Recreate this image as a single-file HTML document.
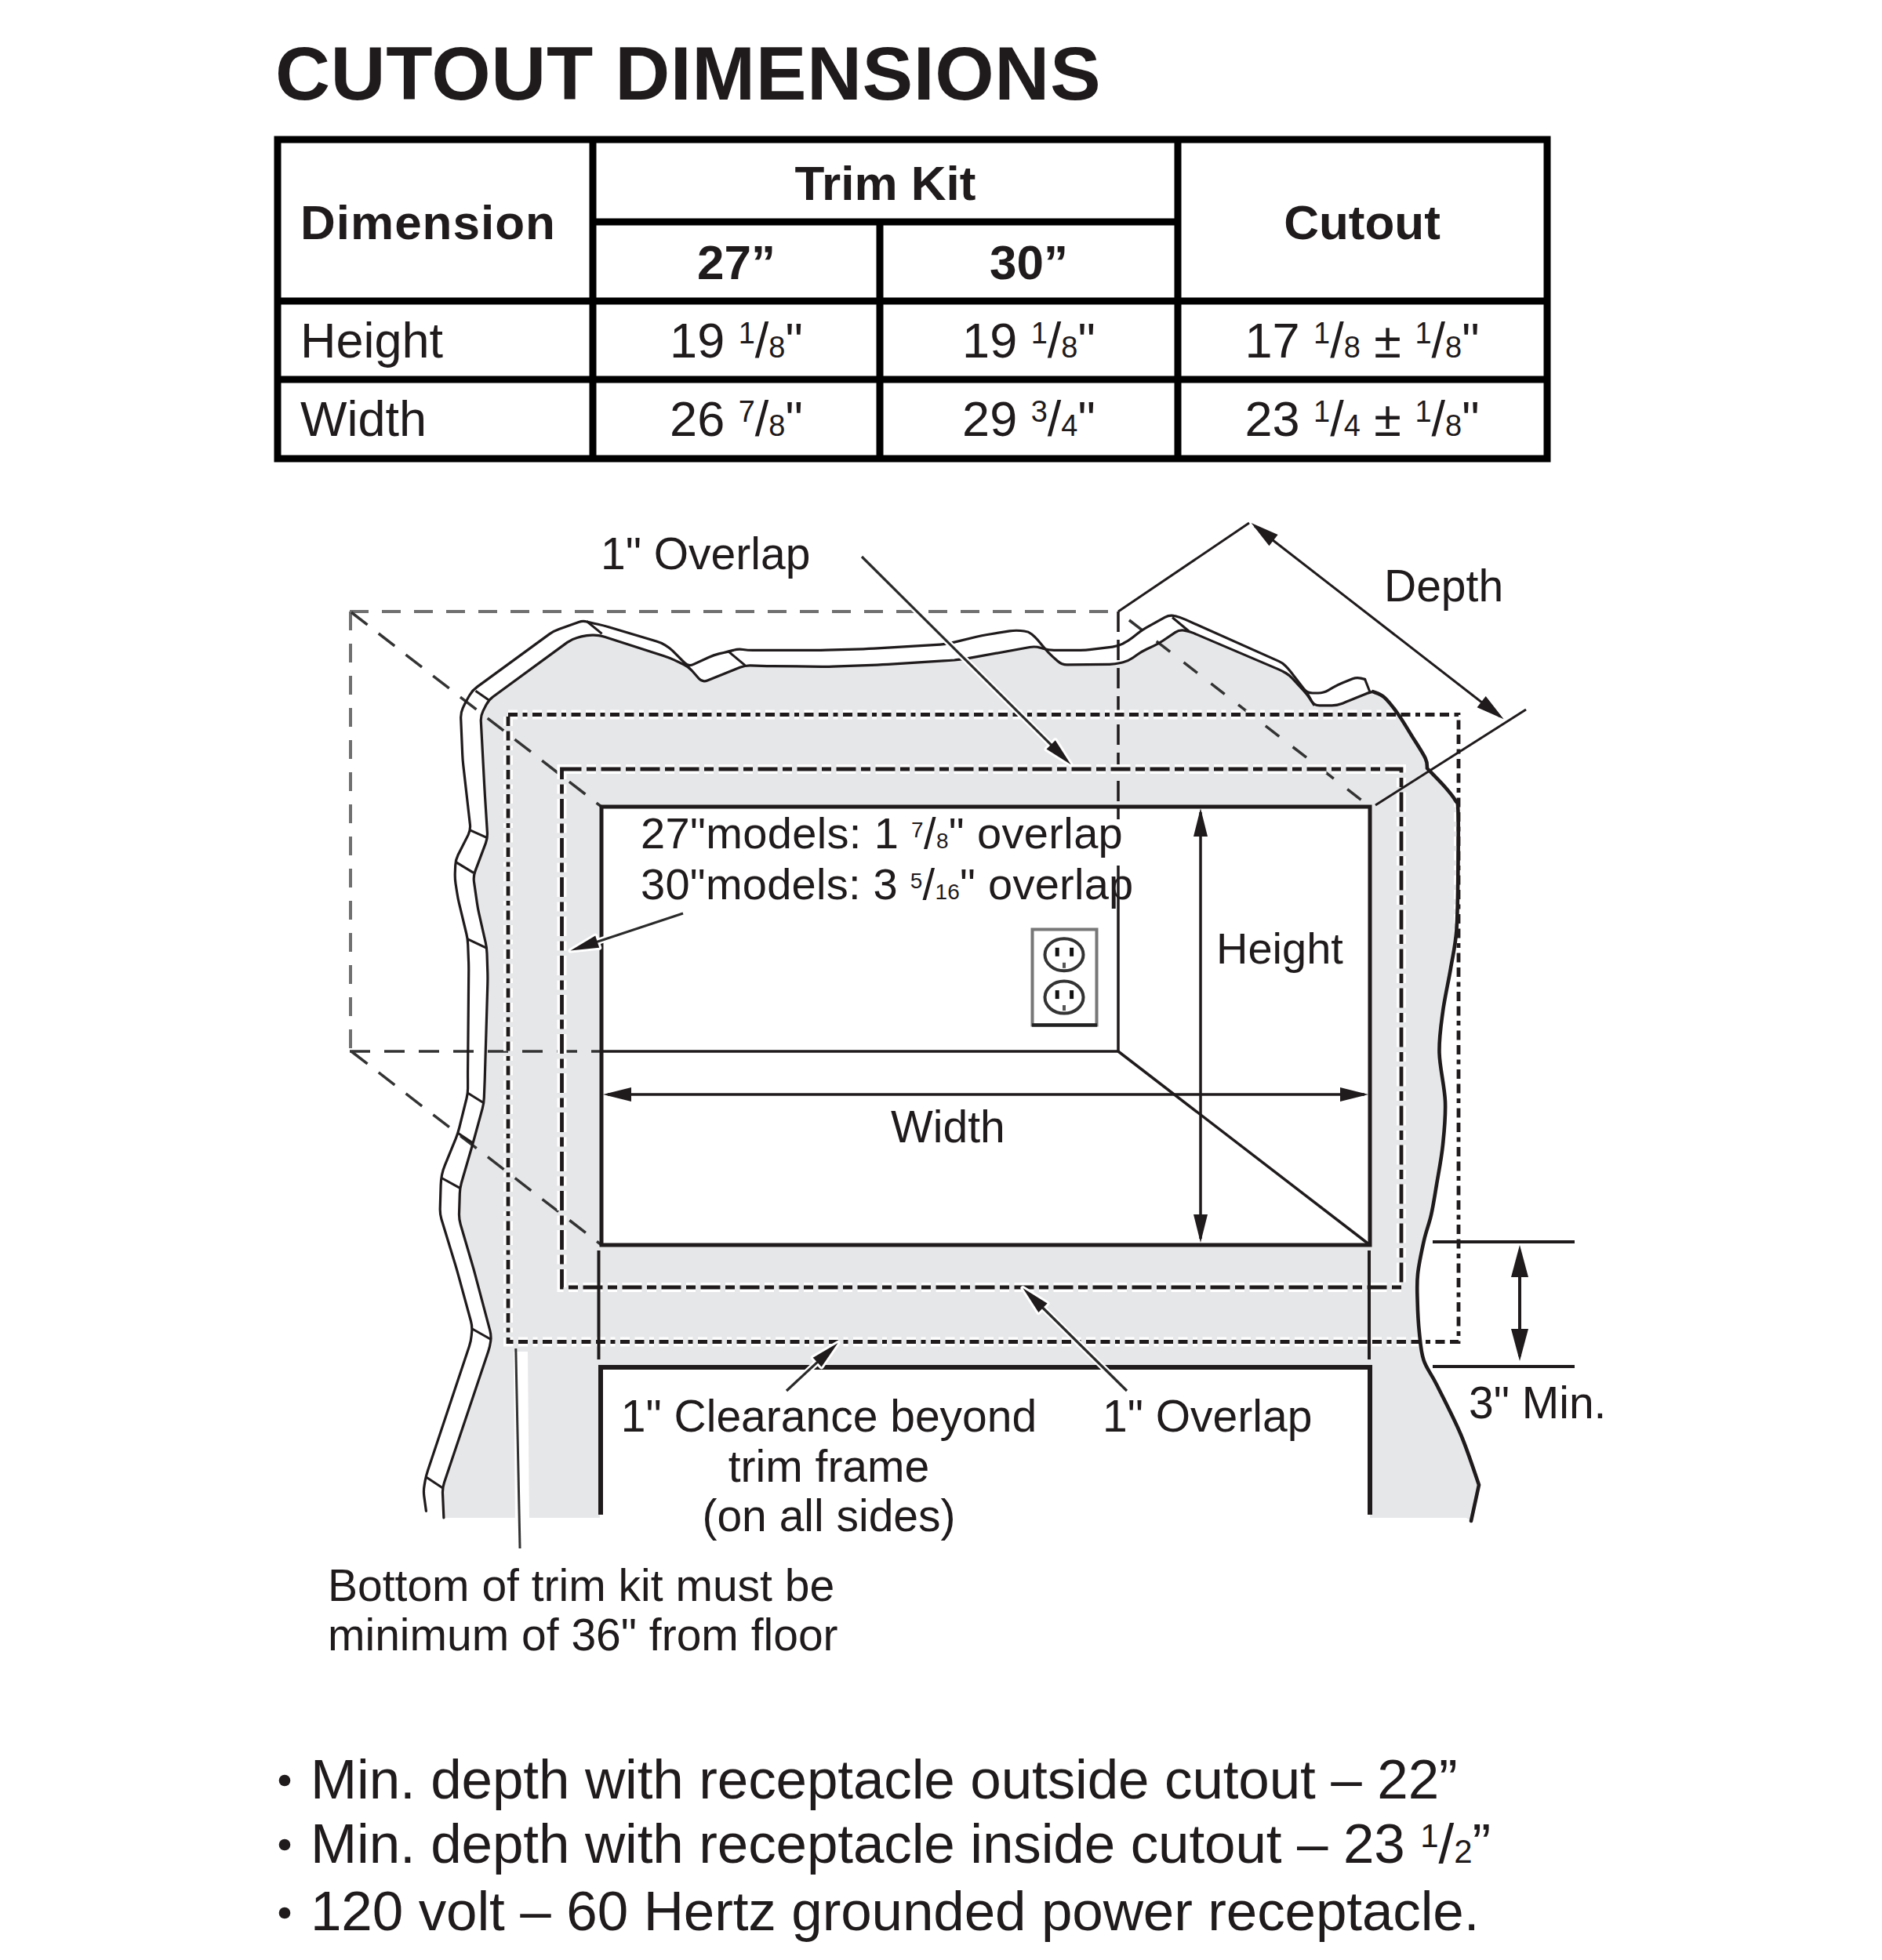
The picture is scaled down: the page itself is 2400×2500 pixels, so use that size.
<!DOCTYPE html>
<html><head><meta charset="utf-8"><title>Cutout Dimensions</title>
<style>
html,body{margin:0;padding:0;background:#fff;}
body{width:2400px;height:2500px;overflow:hidden;}
svg{display:block;}
text{font-family:"Liberation Sans", sans-serif; fill:#1f1a1b;}
</style></head>
<body>
<svg width="2400" height="2500" viewBox="0 0 2400 2500">
<rect width="2400" height="2500" fill="#fff"/>
<polygon points="565.9,1936 564.2,1897.8 624.8,1717.5 626.6,1703.6 604.4,1620 585.3,1555 586.5,1515.4 603.1,1458 617.1,1407 618.4,1370 622,1247.6 620.8,1209.3 609.3,1158.3 603.5,1118 621.8,1068.8 618,1007.6 612.9,913.2 623.1,892.8 729,815.3 748.3,810.1 764.1,810.1 853.5,839 878.1,850.4 895.6,870.6 950.1,848.6 978.2,849.5 1055.3,850.4 1125.5,847.8 1210,842.5 1226.5,841.2 1320,824.2 1326.8,821.7 1337,832.7 1354,848 1422,847.2 1439,843 1456,831 1477.5,820.9 1503.8,803.3 1516,805 1635.3,855.9 1644,861 1667,885.7 1675.7,899.8 1705.5,899.8 1723,892.7 1744,884 1751,882.2 1751,882.2 1765.5,889.6 1783,911 1801,939.6 1817.6,967 1820,980 1842,1003 1856,1021 1859.4,1033.5 1859.5,1100 1857.5,1185 1850,1235 1840,1290 1835.5,1343 1843,1405 1840,1460 1832,1511 1825,1550 1816,1582 1808,1625 1807.6,1660 1810,1700 1815.6,1735 1832,1766 1863,1830 1886,1894 1876,1940 1870,1936" fill="#e6e7e9"/>
<rect x="767" y="1029" width="980" height="559" fill="#fff"/>
<rect x="765" y="1746" width="982" height="200" fill="#fff"/>
<polygon points="655,1724 673,1724 675,1945 657,1945" fill="#fff"/>
<line x1="446" y1="780" x2="1426" y2="780" stroke="#707070" stroke-width="4" stroke-dasharray="24 17"/>
<line x1="447" y1="780" x2="447" y2="1340" stroke="#707070" stroke-width="4" stroke-dasharray="24 17"/>
<line x1="448" y1="781" x2="767" y2="1029" stroke="#333" stroke-width="3.5" stroke-dasharray="26 18"/>
<line x1="448" y1="1341" x2="767" y2="1588" stroke="#333" stroke-width="3.5" stroke-dasharray="26 18"/>
<line x1="1440" y1="791" x2="1747" y2="1029" stroke="#333" stroke-width="3.5" stroke-dasharray="22 22"/>
<line x1="446" y1="1341" x2="767" y2="1341" stroke="#333" stroke-width="3.5" stroke-dasharray="26 18"/>
<line x1="767" y1="1341" x2="1426" y2="1341" stroke="#1f1a1b" stroke-width="3.5" />
<line x1="1426" y1="780" x2="1426" y2="1029" stroke="#1f1a1b" stroke-width="3.5" stroke-dasharray="26 10"/>
<line x1="1426" y1="1029" x2="1426" y2="1045" stroke="#1f1a1b" stroke-width="3.5" />
<line x1="1426" y1="1104" x2="1426" y2="1341" stroke="#1f1a1b" stroke-width="3.5" />
<line x1="1426" y1="1341" x2="1747" y2="1588" stroke="#1f1a1b" stroke-width="3.5" />
<path d="M648,911.5 H1860 V1711.5 H648 Z" fill="none" stroke="#fff" stroke-width="12" stroke-dasharray="12 6.5 6 6.5 12 6.5" />
<path d="M648,911.5 H1860 V1711.5 H648 Z" fill="none" stroke="#1f1a1b" stroke-width="4.8" stroke-dasharray="12 6.5 6 6.5 12 6.5" />
<path d="M716.5,981 H1787 V1642 H716.5 Z" fill="none" stroke="#fff" stroke-width="12" stroke-dasharray="25 6.5 12 6.5" />
<path d="M716.5,981 H1787 V1642 H716.5 Z" fill="none" stroke="#1f1a1b" stroke-width="4.8" stroke-dasharray="25 6.5 12 6.5" />
<path d="M543.4,1927.3 L540.8,1908.2 Q539.9,1901.3 541.2,1894.4 L542.1,1889.1 Q543.4,1882.2 545.6,1875.6 L598.4,1717.2 Q600.6,1710.6 601.2,1703.6 L601.7,1698.5 Q602.3,1691.5 600.4,1684.7 L584.6,1626.8 Q582.7,1620.0 580.7,1613.3 L563.0,1555.3 Q561.0,1548.6 561.2,1541.6 L562.1,1511.7 Q562.3,1505.2 563.5,1498.8 L563.5,1498.8 Q564.8,1492.4 567.3,1486.4 L581.4,1451.8 Q584.0,1445.3 585.7,1438.5 L595.0,1401.0 Q596.7,1394.2 596.6,1387.2 L596.6,1377.0 Q596.5,1370.0 596.6,1363.0 L597.7,1241.8 Q597.8,1234.8 597.6,1227.8 L596.7,1204.8 Q596.5,1197.8 594.8,1191.0 L585.5,1152.3 Q583.8,1145.5 582.8,1138.6 L581.0,1126.9 Q580.0,1120.0 580.3,1113.0 L580.7,1103.8 Q581.0,1096.8 584.1,1090.5 L597.1,1064.9 Q600.2,1058.6 599.4,1051.6 L590.8,976.3 Q590.0,969.3 589.7,962.3 L587.7,916.3 Q587.4,909.3 590.3,902.9 L590.9,901.7 Q593.8,895.3 597.4,889.3 L599.2,886.2 Q602.8,880.2 608.5,876.1 L700.5,808.9 Q706.2,804.8 712.8,802.5 L738.0,793.5 Q743.1,791.7 748.4,793.0 L748.4,793.0 Q753.6,794.3 758.9,795.5 L762.6,796.3 Q769.4,797.8 776.1,799.8 L837.2,818.0 Q843.0,819.7 848.2,822.8 L848.2,822.8 Q853.5,825.9 857.8,830.2 L873.1,845.5 Q878.1,850.4 884.4,847.4 L903.7,838.5 Q910.0,835.5 916.8,833.9 L922.9,832.5 Q929.1,831.1 935.2,829.4 L935.5,829.3 Q941.4,827.6 947.5,828.5 L947.5,828.5 Q953.6,829.4 959.8,829.4 L1039.6,829.4 Q1046.6,829.4 1053.6,829.2 L1101.0,827.8 Q1108.0,827.6 1115.0,827.2 L1199.0,822.1 Q1206.0,821.7 1212.8,820.1 L1245.2,812.2 Q1252.0,810.6 1258.9,809.5 L1287.6,804.9 Q1294.5,803.8 1301.5,804.5 L1306.1,805.0 Q1311.5,805.5 1315.8,808.9 L1315.8,808.9 Q1320.0,812.3 1323.5,816.5 L1332.5,827.3 Q1337.0,832.7 1342.2,837.4 L1348.8,843.3 Q1354.0,848.0 1361.0,847.9 L1415.0,847.3 Q1422.0,847.2 1428.8,845.5 L1432.2,844.7 Q1439.0,843.0 1444.7,839.0 L1450.3,835.0 Q1456.0,831.0 1462.3,828.0 L1471.2,823.9 Q1477.5,820.9 1483.3,817.0 L1498.7,806.7 Q1503.8,803.3 1509.9,804.1 L1509.9,804.1 Q1516.0,805.0 1521.7,807.4 L1630.7,853.9 Q1635.3,855.9 1639.7,858.5 L1639.7,858.5 Q1644.0,861.0 1647.4,864.7 L1662.2,880.6 Q1667.0,885.7 1670.7,891.7 L1672.0,893.8 Q1675.7,899.8 1682.7,899.8 L1698.5,899.8 Q1705.5,899.8 1712.0,897.2 L1716.5,895.3 Q1723.0,892.7 1729.5,890.0 L1740.7,885.4 Q1744.0,884.0 1747.5,883.1 L1751.0,882.2" fill="none" stroke="#1f1a1b" stroke-width="3.2" stroke-linejoin="round" stroke-linecap="round"/>
<path d="M565.9,1936.0 L564.5,1904.8 Q564.2,1897.8 566.4,1891.2 L622.6,1724.1 Q624.8,1717.5 625.7,1710.6 L625.7,1710.5 Q626.6,1703.6 624.8,1696.8 L606.2,1626.8 Q604.4,1620.0 602.4,1613.3 L587.3,1561.7 Q585.3,1555.0 585.5,1548.0 L586.3,1522.4 Q586.5,1515.4 588.4,1508.7 L601.2,1464.7 Q603.1,1458.0 605.0,1451.2 L615.2,1413.8 Q617.1,1407.0 617.3,1400.0 L618.2,1377.0 Q618.4,1370.0 618.6,1363.0 L621.8,1254.6 Q622.0,1247.6 621.8,1240.6 L621.0,1216.3 Q620.8,1209.3 619.3,1202.5 L610.8,1165.1 Q609.3,1158.3 608.3,1151.4 L604.5,1124.9 Q603.5,1118.0 605.9,1111.4 L619.4,1075.4 Q621.8,1068.8 621.4,1061.8 L618.4,1014.6 Q618.0,1007.6 617.6,1000.6 L613.3,920.2 Q612.9,913.2 616.0,906.9 L620.0,899.1 Q623.1,892.8 628.7,888.7 L723.4,819.4 Q729.0,815.3 735.8,813.5 L741.5,811.9 Q748.3,810.1 755.3,810.1 L757.1,810.1 Q764.1,810.1 770.8,812.3 L846.8,836.8 Q853.5,839.0 859.9,841.9 L871.7,847.5 Q878.1,850.4 882.7,855.7 L891.0,865.3 Q895.6,870.6 902.1,868.0 L943.6,851.2 Q950.1,848.6 957.1,848.8 L971.2,849.3 Q978.2,849.5 985.2,849.6 L1048.3,850.3 Q1055.3,850.4 1062.3,850.1 L1118.5,848.1 Q1125.5,847.8 1132.5,847.4 L1203.0,842.9 Q1210.0,842.5 1217.0,842.0 L1219.5,841.7 Q1226.5,841.2 1233.4,839.9 L1313.1,825.5 Q1320.0,824.2 1326.7,826.2 L1330.3,827.3 Q1337.0,829.3 1344.0,829.3 L1377.7,829.3 Q1384.7,829.3 1391.6,828.4 L1418.6,825.1 Q1425.5,824.2 1431.8,821.1 L1432.7,820.5 Q1439.0,817.4 1444.5,813.0 L1450.5,808.2 Q1456.0,803.8 1462.1,800.4 L1485.5,787.4 Q1491.6,784.0 1498.4,785.7 L1498.8,785.8 Q1505.6,787.5 1512.0,790.4 L1630.7,843.4 Q1635.3,845.4 1638.8,848.9 L1638.8,848.9 Q1642.4,852.4 1645.5,856.3 L1662.6,878.5 Q1666.9,884.0 1673.9,884.0 L1681.0,884.0 Q1688.0,884.0 1694.0,880.4 L1699.5,877.1 Q1705.5,873.5 1712.0,870.9 L1724.9,865.8 Q1730.0,863.8 1735.3,865.1 L1740.6,866.4" fill="none" stroke="#1f1a1b" stroke-width="3.2" stroke-linejoin="round" stroke-linecap="round"/>
<path d="M1751.0,882.2 C1753.4,883.4 1760.2,884.8 1765.5,889.6 C1770.8,894.4 1777.1,902.7 1783.0,911.0 C1788.9,919.3 1795.2,930.3 1801.0,939.6 C1806.8,948.9 1814.4,960.3 1817.6,967.0 C1820.8,973.7 1819.6,977.8 1820.0,980.0 L1820.0,980.0 C1823.7,983.8 1836.0,996.2 1842.0,1003.0 C1848.0,1009.8 1853.1,1015.9 1856.0,1021.0 C1858.9,1026.1 1858.8,1020.3 1859.4,1033.5 C1860.0,1046.7 1859.8,1074.8 1859.5,1100.0 C1859.2,1125.2 1859.1,1162.5 1857.5,1185.0 C1855.9,1207.5 1852.9,1217.5 1850.0,1235.0 C1847.1,1252.5 1842.4,1272.0 1840.0,1290.0 C1837.6,1308.0 1835.0,1323.8 1835.5,1343.0 C1836.0,1362.2 1842.2,1385.5 1843.0,1405.0 C1843.8,1424.5 1841.8,1442.3 1840.0,1460.0 C1838.2,1477.7 1834.5,1496.0 1832.0,1511.0 C1829.5,1526.0 1827.7,1538.2 1825.0,1550.0 C1822.3,1561.8 1818.8,1569.5 1816.0,1582.0 C1813.2,1594.5 1809.4,1612.0 1808.0,1625.0 C1806.6,1638.0 1807.3,1647.5 1807.6,1660.0 C1807.9,1672.5 1808.7,1687.5 1810.0,1700.0 C1811.3,1712.5 1811.9,1724.0 1815.6,1735.0 C1819.3,1746.0 1824.1,1750.2 1832.0,1766.0 C1839.9,1781.8 1854.0,1808.7 1863.0,1830.0 C1872.0,1851.3 1882.2,1883.3 1886.0,1894.0 L1876,1940" fill="none" stroke="#1f1a1b" stroke-width="4.6" stroke-linejoin="round" stroke-linecap="round"/>
<line x1="596.7" y1="1394.2" x2="617.1" y2="1407" stroke="#1f1a1b" stroke-width="3" />
<line x1="584" y1="1445.3" x2="603.1" y2="1458" stroke="#1f1a1b" stroke-width="3" />
<line x1="563.6" y1="1502.7" x2="586.5" y2="1515.4" stroke="#1f1a1b" stroke-width="3" />
<line x1="602.3" y1="1695" x2="626.6" y2="1708.8" stroke="#1f1a1b" stroke-width="3" />
<line x1="543.4" y1="1884" x2="564.2" y2="1897.8" stroke="#1f1a1b" stroke-width="3" />
<line x1="596.5" y1="1197.8" x2="620.8" y2="1209.3" stroke="#1f1a1b" stroke-width="3" />
<line x1="598.9" y1="1058.6" x2="621.8" y2="1068.8" stroke="#1f1a1b" stroke-width="3" />
<line x1="581" y1="1099.4" x2="604" y2="1113.4" stroke="#1f1a1b" stroke-width="3" />
<line x1="606.5" y1="881.3" x2="623.1" y2="892.8" stroke="#1f1a1b" stroke-width="3" />
<line x1="748.3" y1="792.5" x2="767.6" y2="808.3" stroke="#1f1a1b" stroke-width="3" />
<line x1="929.1" y1="831.1" x2="950.1" y2="848.6" stroke="#1f1a1b" stroke-width="3" />
<line x1="1495" y1="787.5" x2="1516" y2="805" stroke="#1f1a1b" stroke-width="3" />
<line x1="1667" y1="884" x2="1676" y2="900" stroke="#1f1a1b" stroke-width="3" />
<line x1="1740.6" y1="866.4" x2="1747.5" y2="884" stroke="#1f1a1b" stroke-width="3" />
<rect x="767" y="1029" width="980" height="559" fill="none" stroke="#1f1a1b" stroke-width="5"/>
<line x1="763.5" y1="1595" x2="763.5" y2="1734" stroke="#1f1a1b" stroke-width="4" />
<line x1="1746" y1="1595" x2="1746" y2="1734" stroke="#1f1a1b" stroke-width="4" />
<path d="M766,1932 V1744 H1747 V1932" fill="none" stroke="#1f1a1b" stroke-width="6"/>
<rect x="1316.5" y="1185.5" width="82" height="122" fill="#fff" stroke="#777" stroke-width="4"/>
<line x1="1316" y1="1307.5" x2="1399" y2="1307.5" stroke="#222" stroke-width="4.5" />
<ellipse cx="1357" cy="1217.8" rx="24.5" ry="20.5" fill="#fff" stroke="#333" stroke-width="4"/>
<line x1="1348.2" y1="1208.8" x2="1348.2" y2="1219.8" stroke="#111" stroke-width="5" />
<line x1="1366.6" y1="1208.8" x2="1366.6" y2="1219.8" stroke="#111" stroke-width="5" />
<line x1="1357" y1="1227.8" x2="1357" y2="1234.8" stroke="#555" stroke-width="4" />
<ellipse cx="1357" cy="1272.1" rx="24.5" ry="20.5" fill="#fff" stroke="#333" stroke-width="4"/>
<line x1="1348.2" y1="1263.1" x2="1348.2" y2="1274.1" stroke="#111" stroke-width="5" />
<line x1="1366.6" y1="1263.1" x2="1366.6" y2="1274.1" stroke="#111" stroke-width="5" />
<line x1="1357" y1="1282.1" x2="1357" y2="1289.1" stroke="#555" stroke-width="4" />
<line x1="775" y1="1396" x2="1740" y2="1396" stroke="#1f1a1b" stroke-width="3.5" />
<polygon points="769.0,1396.0 805.0,1387.0 805.0,1405.0" fill="#1f1a1b"/>
<polygon points="1745.0,1396.0 1709.0,1405.0 1709.0,1387.0" fill="#1f1a1b"/>
<line x1="1531" y1="1036" x2="1531" y2="1580" stroke="#1f1a1b" stroke-width="3.5" />
<polygon points="1531.0,1031.0 1540.0,1067.0 1522.0,1067.0" fill="#1f1a1b"/>
<polygon points="1531.0,1585.0 1522.0,1549.0 1540.0,1549.0" fill="#1f1a1b"/>
<line x1="1426" y1="780" x2="1593" y2="667" stroke="#1f1a1b" stroke-width="3" />
<line x1="1754" y1="1027" x2="1946" y2="905" stroke="#1f1a1b" stroke-width="3" />
<line x1="1600" y1="671" x2="1913" y2="914" stroke="#1f1a1b" stroke-width="3" />
<polygon points="1595.6,667.1 1629.6,682.0 1618.5,696.3" fill="#1f1a1b"/>
<polygon points="1917.6,917.3 1883.6,902.3 1894.7,888.1" fill="#1f1a1b"/>
<line x1="1827" y1="1584" x2="2008" y2="1584" stroke="#1f1a1b" stroke-width="4" />
<line x1="1827" y1="1743" x2="2008" y2="1743" stroke="#1f1a1b" stroke-width="4" />
<line x1="1938" y1="1595" x2="1938" y2="1730" stroke="#1f1a1b" stroke-width="4" />
<polygon points="1938.0,1588.0 1949.0,1629.0 1927.0,1629.0" fill="#1f1a1b"/>
<polygon points="1938.0,1736.0 1927.0,1695.0 1949.0,1695.0" fill="#1f1a1b"/>
<line x1="1099" y1="710" x2="1343.0131157233827" y2="952.7322069794279" stroke="#fff" stroke-width="8" stroke-linecap="round"/>
<polygon points="1365.7,975.3 1334.5,955.6 1345.8,944.2" fill="#fff" stroke="#fff" stroke-width="6" stroke-linejoin="round"/>
<line x1="1099" y1="710" x2="1343.0131157233827" y2="952.7322069794279" stroke="#2a2a2a" stroke-width="3.2" />
<polygon points="1365.7,975.3 1334.5,955.6 1345.8,944.2" fill="#1f1a1b"/>
<line x1="871" y1="1165" x2="757.8789691179155" y2="1202.4442436717702" stroke="#fff" stroke-width="8" stroke-linecap="round"/>
<polygon points="727.5,1212.5 759.2,1193.6 764.2,1208.8" fill="#fff" stroke="#fff" stroke-width="6" stroke-linejoin="round"/>
<line x1="871" y1="1165" x2="757.8789691179155" y2="1202.4442436717702" stroke="#2a2a2a" stroke-width="3.2" />
<polygon points="727.5,1212.5 759.2,1193.6 764.2,1208.8" fill="#1f1a1b"/>
<line x1="1003" y1="1774" x2="1045.082467263938" y2="1734.8086946091569" stroke="#fff" stroke-width="8" stroke-linecap="round"/>
<polygon points="1068.5,1713.0 1047.6,1743.4 1036.7,1731.7" fill="#fff" stroke="#fff" stroke-width="6" stroke-linejoin="round"/>
<line x1="1003" y1="1774" x2="1045.082467263938" y2="1734.8086946091569" stroke="#2a2a2a" stroke-width="3.2" />
<polygon points="1068.5,1713.0 1047.6,1743.4 1036.7,1731.7" fill="#1f1a1b"/>
<line x1="1437" y1="1774" x2="1327.164341611644" y2="1665.4896587566013" stroke="#fff" stroke-width="8" stroke-linecap="round"/>
<polygon points="1304.4,1643.0 1335.6,1662.6 1324.4,1674.0" fill="#fff" stroke="#fff" stroke-width="6" stroke-linejoin="round"/>
<line x1="1437" y1="1774" x2="1327.164341611644" y2="1665.4896587566013" stroke="#2a2a2a" stroke-width="3.2" />
<polygon points="1304.4,1643.0 1335.6,1662.6 1324.4,1674.0" fill="#1f1a1b"/>
<line x1="657.8" y1="1720" x2="663" y2="1975" stroke="#333" stroke-width="3" />
<text x="766" y="726" font-size="57" text-anchor="start" font-weight="normal" >1&quot; Overlap</text>
<text x="1765" y="767" font-size="57" text-anchor="start" font-weight="normal" >Depth</text>
<text x="817" y="1082" font-size="56" text-anchor="start" font-weight="normal" letter-spacing="0.35">27&quot;models: 1 <tspan font-size="28" dy="-14">7</tspan><tspan dy="14">/</tspan><tspan font-size="28">8</tspan>&quot; overlap</text>
<text x="817" y="1147" font-size="56" text-anchor="start" font-weight="normal" letter-spacing="0.25">30&quot;models: 3 <tspan font-size="28" dy="-14">5</tspan><tspan dy="14">/</tspan><tspan font-size="28">16</tspan>&quot; overlap</text>
<text x="1551" y="1229" font-size="56" text-anchor="start" font-weight="normal" >Height</text>
<text x="1136" y="1457" font-size="57" text-anchor="start" font-weight="normal" >Width</text>
<text x="1057" y="1826" font-size="57" text-anchor="middle" font-weight="normal" >1&quot; Clearance beyond</text>
<text x="1057" y="1890" font-size="57" text-anchor="middle" font-weight="normal" >trim frame</text>
<text x="1057" y="1953" font-size="57" text-anchor="middle" font-weight="normal" >(on all sides)</text>
<text x="1406" y="1826" font-size="57" text-anchor="start" font-weight="normal" >1&quot; Overlap</text>
<text x="1873" y="1809" font-size="57" text-anchor="start" font-weight="normal" >3&quot; Min.</text>
<text x="418" y="2042" font-size="57" text-anchor="start" font-weight="normal" >Bottom of trim kit must be</text>
<text x="418" y="2105" font-size="57" text-anchor="start" font-weight="normal" >minimum of 36&quot; from floor</text>
<circle cx="363" cy="2271" r="7.3" fill="#1f1a1b"/>
<circle cx="363" cy="2353" r="7.3" fill="#1f1a1b"/>
<circle cx="363" cy="2440" r="7.3" fill="#1f1a1b"/>
<text x="396" y="2294" font-size="71" text-anchor="start" font-weight="normal" letter-spacing="-0.12">Min. depth with receptacle outside cutout – 22”</text>
<text x="396" y="2376" font-size="71" text-anchor="start" font-weight="normal" letter-spacing="-0.12">Min. depth with receptacle inside cutout – 23 <tspan font-size="42" dy="-20">1</tspan><tspan dy="20">/</tspan><tspan font-size="42">2</tspan>”</text>
<text x="396" y="2462" font-size="71" text-anchor="start" font-weight="normal" letter-spacing="-0.12">120 volt – 60 Hertz grounded power receptacle.</text>
<text x="351" y="127" font-size="97" text-anchor="start" font-weight="bold" letter-spacing="0.56">CUTOUT DIMENSIONS</text>
<rect x="354" y="178" width="1619" height="407" fill="none" stroke="#000" stroke-width="9"/>
<line x1="756" y1="178" x2="756" y2="585" stroke="#000" stroke-width="9" />
<line x1="1502" y1="178" x2="1502" y2="585" stroke="#000" stroke-width="9" />
<line x1="1122" y1="283" x2="1122" y2="585" stroke="#000" stroke-width="9" />
<line x1="756" y1="283" x2="1502" y2="283" stroke="#000" stroke-width="9" />
<line x1="354" y1="384" x2="1973" y2="384" stroke="#000" stroke-width="9" />
<line x1="354" y1="484" x2="1973" y2="484" stroke="#000" stroke-width="9" />
<text x="383" y="305" font-size="62" text-anchor="start" font-weight="bold" letter-spacing="1">Dimension</text>
<text x="1129" y="255" font-size="62" text-anchor="middle" font-weight="bold" >Trim Kit</text>
<text x="939" y="356" font-size="62" text-anchor="middle" font-weight="bold" >27”</text>
<text x="1312" y="356" font-size="62" text-anchor="middle" font-weight="bold" >30”</text>
<text x="1737" y="305" font-size="62" text-anchor="middle" font-weight="bold" >Cutout</text>
<text x="383" y="456" font-size="63" text-anchor="start" font-weight="normal" >Height</text>
<text x="383" y="556" font-size="63" text-anchor="start" font-weight="normal" >Width</text>
<text x="939" y="456" font-size="63" text-anchor="middle">19 <tspan font-size="38" dy="-18">1</tspan><tspan dy="18">/</tspan><tspan font-size="38">8</tspan>&quot;</text>
<text x="1312" y="456" font-size="63" text-anchor="middle">19 <tspan font-size="38" dy="-18">1</tspan><tspan dy="18">/</tspan><tspan font-size="38">8</tspan>&quot;</text>
<text x="1737" y="456" font-size="63" text-anchor="middle">17 <tspan font-size="38" dy="-18">1</tspan><tspan dy="18">/</tspan><tspan font-size="38">8</tspan> ± <tspan font-size="38" dy="-18">1</tspan><tspan dy="18">/</tspan><tspan font-size="38">8</tspan>&quot;</text>
<text x="939" y="556" font-size="63" text-anchor="middle">26 <tspan font-size="38" dy="-18">7</tspan><tspan dy="18">/</tspan><tspan font-size="38">8</tspan>&quot;</text>
<text x="1312" y="556" font-size="63" text-anchor="middle">29 <tspan font-size="38" dy="-18">3</tspan><tspan dy="18">/</tspan><tspan font-size="38">4</tspan>&quot;</text>
<text x="1737" y="556" font-size="63" text-anchor="middle">23 <tspan font-size="38" dy="-18">1</tspan><tspan dy="18">/</tspan><tspan font-size="38">4</tspan> ± <tspan font-size="38" dy="-18">1</tspan><tspan dy="18">/</tspan><tspan font-size="38">8</tspan>&quot;</text>
</svg>
</body></html>
